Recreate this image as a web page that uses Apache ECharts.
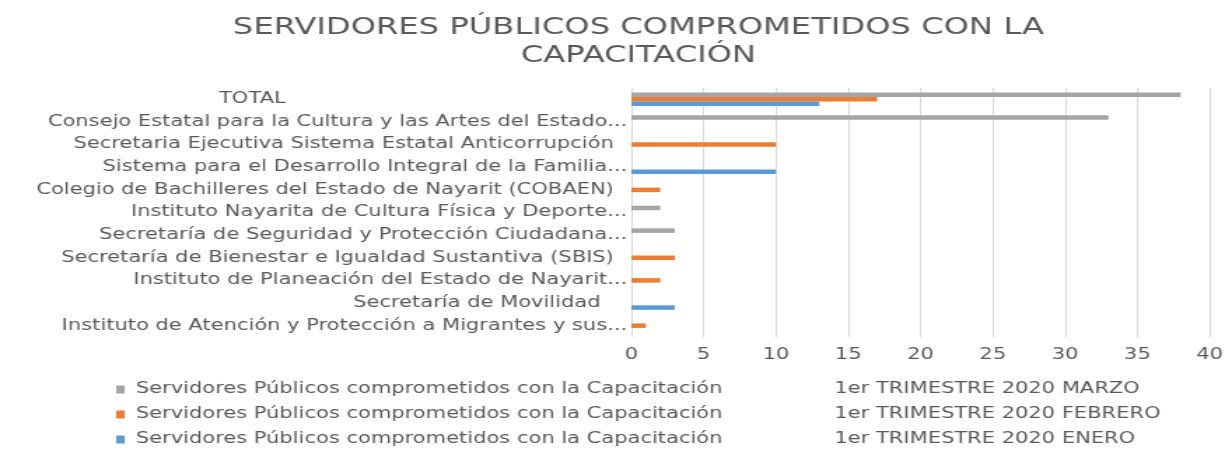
<!DOCTYPE html>
<html>
<head>
<meta charset="utf-8">
<script src="https://cdn.jsdelivr.net/npm/echarts@6/dist/echarts.min.js"></script>
<style>
html,body{margin:0;padding:0;background:#fff;overflow:hidden}
#wrap{width:1232px;height:454px;overflow:hidden}
#c{width:880px;height:454px;transform:scaleX(1.4);transform-origin:0 0}
</style>
</head>
<body>
<div id="wrap"><div id="c"></div></div>
<script>
var categories = [
  "TOTAL",
  "Consejo Estatal para la Cultura y las Artes del Estado...",
  "Secretaria Ejecutiva Sistema Estatal Anticorrupción  ",
  "Sistema para el Desarrollo Integral de la Familia...",
  "Colegio de Bachilleres del Estado de Nayarit (COBAEN)  ",
  "Instituto Nayarita de Cultura Física y Deporte...",
  "Secretaría de Seguridad y Protección Ciudadana...",
  "Secretaría de Bienestar e Igualdad Sustantiva (SBIS)  ",
  "Instituto de Planeación del Estado de Nayarit...",
  "Secretaría de Movilidad    ",
  "Instituto de Atención y Protección a Migrantes y sus..."
];
var marzo   = [38, 33, 0, 0, 0, 2, 3, 0, 0, 0, 0];
var febrero = [17, 0, 10, 0, 2, 0, 0, 3, 2, 0, 1];
var enero   = [13, 0, 0, 10, 0, 0, 0, 0, 0, 3, 0];
var seriesPrefix = "Servidores Públicos comprometidos con la Capacitación";
var seriesPeriods = ["1er TRIMESTRE 2020 MARZO", "1er TRIMESTRE 2020 FEBRERO", "1er TRIMESTRE 2020 ENERO"];
var colors = ["#A5A5A5", "#ED7D31", "#5B9BD5"];
var seriesNames = seriesPeriods.map(function (p) { return seriesPrefix + " " + p; });
var data = [marzo, febrero, enero];

var chart = echarts.init(document.getElementById('c'));
var font = "'DejaVu Sans'";
var grey = '#595959';
chart.setOption({
  animation: false,
  title: {
    text: "SERVIDORES PÚBLICOS COMPROMETIDOS CON LA\nCAPACITACIÓN",
    left: 451, top: 9, textAlign: 'center',
    textStyle: { fontFamily: font, fontSize: 23, fontWeight: 'normal', color: grey, lineHeight: 28 }
  },
  grid: { left: 451, right: 16, top: 88, bottom: 117, containLabel: false },
  xAxis: {
    type: 'value', min: 0, max: 40, interval: 5,
    axisLine: { show: false }, axisTick: { show: false },
    splitLine: { lineStyle: { color: '#D9D9D9', width: 1 } },
    axisLabel: { fontFamily: font, fontSize: 15, color: grey, margin: 11 }
  },
  yAxis: {
    type: 'category', data: categories, inverse: true,
    axisLine: { show: false }, axisTick: { show: false },
    axisLabel: {
      fontFamily: font, fontSize: 15, color: grey, margin: 3, interval: 0,
      formatter: function (v) { return v === 'TOTAL' ? '{t|' + v + '}' : v; },
      rich: { t: { fontFamily: font, fontSize: 15, color: grey, padding: [0, 244, 0, 0] } }
    }
  },
  legend: {
    orient: 'vertical', left: 78, top: 377, itemWidth: 6, itemHeight: 8, itemGap: 10,
    icon: 'rect',
    data: seriesNames,
    formatter: function (name) {
      var i = seriesNames.indexOf(name);
      return '{a|' + seriesPrefix + '}{b|' + seriesPeriods[i] + '}';
    },
    textStyle: {
      fontFamily: font, fontSize: 15, color: grey,
      rich: {
        a: { fontFamily: font, fontSize: 15, color: grey, width: 499, padding: [0, 0, 0, 3], lineHeight: 18 },
        b: { fontFamily: font, fontSize: 15, color: grey, lineHeight: 18 }
      }
    }
  },
  series: data.map(function (d, i) {
    return {
      name: seriesNames[i], type: 'bar', data: d,
      itemStyle: { color: colors[i] },
      barGap: '0%', barCategoryGap: '40%'
    };
  })
});
</script>
</body>
</html>
